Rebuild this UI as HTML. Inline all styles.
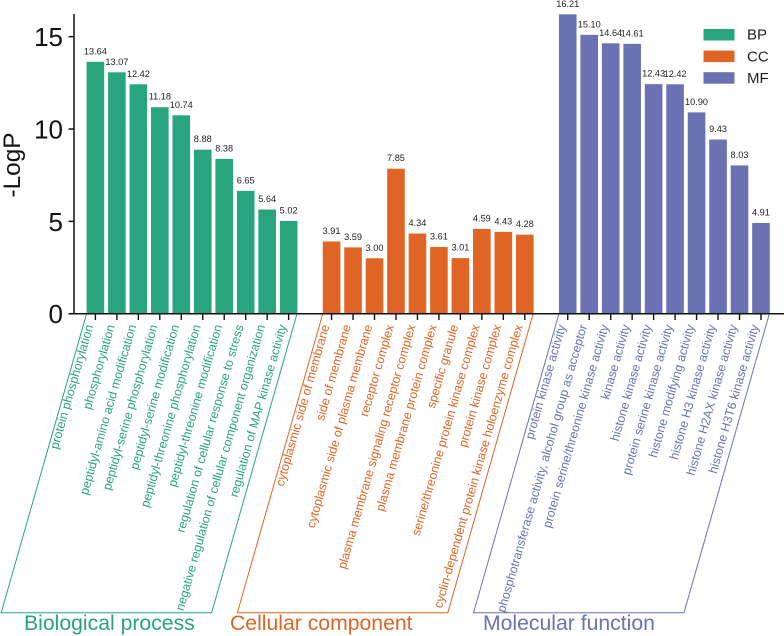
<!DOCTYPE html>
<html>
<head>
<meta charset="utf-8">
<title>GO enrichment chart</title>
<style>
html,body{margin:0;padding:0;background:#fff;width:784px;height:636px;overflow:hidden}
svg{display:block;font-family:"Liberation Sans",Arial,sans-serif}
</style>
</head>
<body>
<svg id="chart" width="784" height="636" viewBox="0 0 784 636" xmlns="http://www.w3.org/2000/svg"></svg>
<script>
const bpTerms = ["protein phosphorylation","phosphorylation","peptidyl-amino acid modification","peptidyl-serine phosphorylation","peptidyl-serine modification","peptidyl-threonine phosphorylation","peptidyl-threonine modification","regulation of cellular response to stress","negative regulation of cellular component organization","regulation of MAP kinase activity"];
const bpValues = [13.64,13.07,12.42,11.18,10.74,8.88,8.38,6.65,5.64,5.02];
const ccTerms = ["cytoplasmic side of membrane","side of membrane","cytoplasmic side of plasma membrane","receptor complex","plasma membrane signaling receptor complex","plasma membrane protein complex","specific granule","serine/threonine protein kinase complex","protein kinase complex","cyclin-dependent protein kinase holoenzyme complex"];
const ccValues = [3.91,3.59,3.00,7.85,4.34,3.61,3.01,4.59,4.43,4.28];
const mfTerms = ["protein kinase activity","phosphotransferase activity, alcohol group as acceptor","protein serine/threonine kinase activity","kinase activity","histone kinase activity","protein serine kinase activity","histone modifying activity","histone H3 kinase activity","histone H2AX kinase activity","histone H3T6 kinase activity"];
const mfValues = [16.21,15.10,14.64,14.61,12.43,12.42,10.90,9.43,8.03,4.91];
const yTicks = [0,5,10,15];
const groupCodes = ["BP","CC","MF"];
const groupTitles = ["Biological process","Cellular component","Molecular function"];

const svg = document.getElementById('chart');
const NS = 'http://www.w3.org/2000/svg';
const colors = {BP:'#28a57d',CC:'#e06525',MF:'#6b72b3'};
const groupStart = {BP:0,CC:11,MF:22};
const groupTerms = {BP:bpTerms,CC:ccTerms,MF:mfTerms};
const groupValues = {BP:bpValues,CC:ccValues,MF:mfValues};
const titleX = {BP:24,CC:230,MF:483};

function xScale(i){ return 95.4 + i * 21.47; }
function yScale(v){ return 313.7 - v * 18.47; }

function make(tag, attrs, text){
  const el = document.createElementNS(NS, tag);
  for (const k in attrs) el.setAttribute(k, attrs[k]);
  if (text !== undefined) el.textContent = text;
  svg.appendChild(el);
  return el;
}

groupCodes.forEach(function(code, g){
  const color = colors[code];
  const terms = groupTerms[code];
  const values = groupValues[code];
  const start = groupStart[code];

  values.forEach(function(v, i){
    const cx = xScale(start + i);
    const bar = make('rect', {x:cx-8.8, y:yScale(v), width:17.6, height:313.7-yScale(v), fill:color});
    
    

    const val = make('text', {x:cx, y:yScale(v)-7.5, 'font-size':9.2, fill:'#222', 'text-anchor':'middle'}, v.toFixed(2));
    
    

    const tick = make('line', {x1:cx, x2:cx, y1:313.7, y2:320, stroke:'#111', 'stroke-width':1.4});
    
    

    const lx = cx - 2, ly = 326;
    const lab = make('text', {x:lx, y:ly, 'font-size':12.4, fill:color, 'text-anchor':'end', transform:'rotate(-74 ' + lx + ' ' + ly + ')'}, terms[i]);
    
    
  });

  const left = xScale(start) - 8.9;
  const right = xScale(start + values.length - 1) + 8.3;
  const shift = 85.3;
  const bottom = 612.7;
  const bracket = make('path', {d:'M'+left+' 314L'+(left-shift)+' '+bottom+'L'+(right-shift)+' '+bottom+'L'+right+' 314', fill:'none', stroke:color, 'stroke-width':1});
  
  

  const title = make('text', {x:titleX[code], y:630, 'font-size':21.2, fill:color}, groupTitles[g]);
  
  

  const ly = 29 + g * 21.6;
  const swatch = make('rect', {x:703.5, y:ly, width:31, height:11.5, fill:color});
  
  

  const legendText = make('text', {x:747, y:ly+10.7, 'font-size':15, fill:'#222'}, code);
  
  
});

const yAxis = make('line', {x1:74, x2:74, y1:14, y2:314.4, stroke:'#111', 'stroke-width':1.5});



const xAxis = make('line', {x1:68.5, x2:784, y1:313.7, y2:313.7, stroke:'#111', 'stroke-width':1.5});



yTicks.forEach(function(t){
  const mark = make('line', {x1:68.5, x2:74, y1:yScale(t), y2:yScale(t), stroke:'#111', 'stroke-width':1.5});
  
  

  const label = make('text', {x:63, y:yScale(t)+9.5, 'font-size':26, fill:'#111', 'text-anchor':'end'}, String(t));
  
  
});

const yTitle = make('text', {x:20, y:165, 'font-size':24.4, fill:'#111', 'text-anchor':'middle', transform:'rotate(-90 20 165)'}, '-LogP');


</script>
</body>
</html>
